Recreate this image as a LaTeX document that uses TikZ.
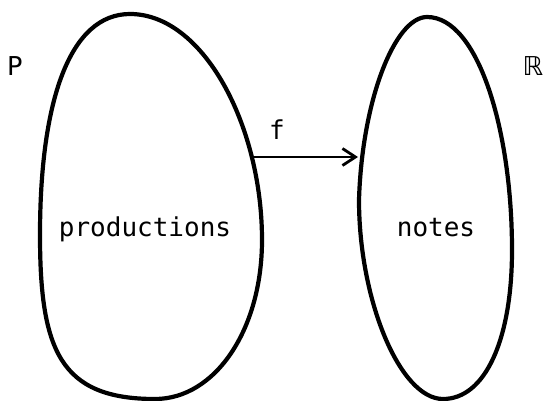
\documentclass[tikz,border=0pt]{standalone}
\usepackage{fontspec}
\setmainfont{DejaVu Sans Mono}
\newfontfamily\symfont{DejaVu Sans}
\usetikzlibrary{arrows.meta}

\begin{document}
\begin{tikzpicture}[
    x=1pt, y=-1pt,
    blob/.style={draw, line width=4.2pt, line join=round},
    lbl/.style={font=\fontsize{26}{30}\selectfont, inner sep=0pt},
    arrow/.style={-{Straight Barb[length=13pt,width=17pt,line width=2.8pt]}, line width=2.8pt}
]
    \useasboundingbox (0,0) rectangle (546,401);
    % the two sets
    \draw[blob] (130,14) .. controls (203,14) and (262,125) .. (262,240)
        .. controls (262,330) and (215,399) .. (155,399)
        .. controls (60,399) and (40,350) .. (40,235)
        .. controls (40,100) and (70,14) .. (130,14) -- cycle;
    \draw[blob] (427,17) .. controls (478,17) and (512,130) .. (512,250)
        .. controls (512,340) and (485,399) .. (443,399)
        .. controls (400,399) and (359,300) .. (359,200)
        .. controls (362,100) and (395,17) .. (427,17) -- cycle;
    % labels
    \node[lbl] (prod) at (145,229) {productions};
    \node[lbl] (notes) at (436,228) {notes};
    \node[lbl] (P) at (15,66) {P};
    \node[lbl] (R) at (533,66) {\symfont ℝ};
    % the map
    \coordinate (fstart) at (252,157);
    \coordinate (fend) at (358,157);
    \draw[arrow] (fstart) -- (fend);
    \node[lbl] (f) at (277,130) {f};
\end{tikzpicture}
\end{document}
